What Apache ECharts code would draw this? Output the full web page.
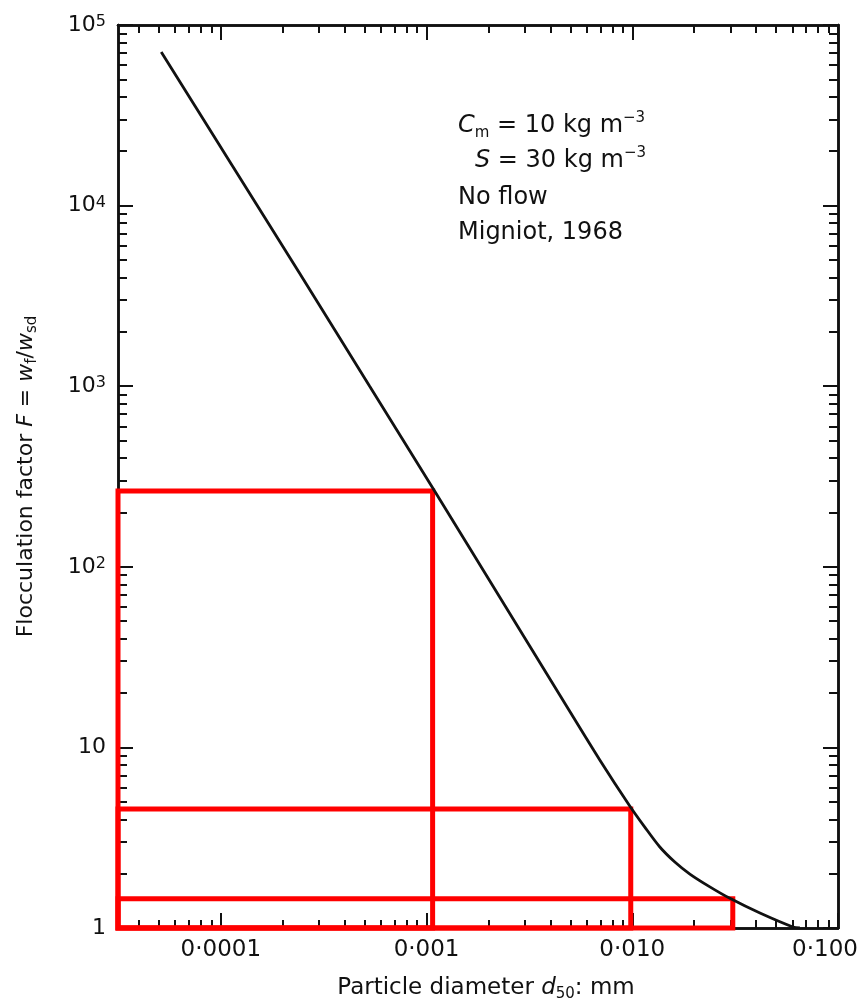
<!DOCTYPE html>
<html>
<head>
<meta charset="utf-8">
<script src="https://cdn.jsdelivr.net/npm/echarts@6/dist/echarts.min.js"></script>
<style>
html, body { margin: 0; padding: 0; background: #fff; }
#chart { width: 867px; height: 1008px; }
</style>
</head>
<body>
<div id="chart"></div>
<script>
// curve: particle diameter d50 (mm) -> flocculation factor F
const diameter = [5.13e-5, 1.10e-4, 2.41e-4, 5.28e-4, 1.094e-3, 2.266e-3, 4.44e-3, 6.95e-3,
  9.72e-3, 0.0115, 0.01361, 0.0161, 0.01905, 0.02383, 0.02981, 0.04174, 0.06039, 0.0653];
const factor = [70900, 17660, 4235, 1003, 263, 68.1, 19.5, 8.52,
  4.74, 3.62, 2.81, 2.32, 1.99, 1.69, 1.46, 1.21, 1.013, 1.0];

// red highlight boxes, from the left/bottom corner up to (boxRight, boxTop)
const boxRight = [0.00107, 0.00983, 0.0308];
const boxTop = [263, 4.56, 1.45];

const xTickValues = [0.0001, 0.001, 0.01, 0.1];
const xTickLabels = ['0·0001', '0·001', '0·010', '{last|0·100}'];
const yTickValues = [1, 10, 100, 1000, 10000, 100000];
const yTickLabels = ['1', '10', '10{sup|2}', '10{sup|3}', '10{sup|4}', '10{sup|5}'];
const minorSteps = [2, 3, 4, 5, 6, 7, 8, 9];

const FONT = 'DejaVu Sans';
const INK = '#111';
const lg = Math.log10;
const xMin = -4.5, xMax = -1, yMin = 0, yMax = 5;

const xMajor = xTickValues.map(lg);
const yMajor = yTickValues.map(lg);

function minorTicks(lo, hi) {
  const out = [];
  for (let e = Math.floor(lo); e < hi; e++) {
    minorSteps.forEach(m => {
      const v = e + lg(m);
      if (v > lo && v < hi) out.push(v);
    });
  }
  return out;
}

function pick(values, labels) {
  return v => {
    const i = values.findIndex(t => Math.abs(t - v) < 1e-6);
    return i < 0 ? '' : labels[i];
  };
}

// one axis per side per tick length: the log ticks go through customValues
function frameAxis(dim, position, ticks, len, extra) {
  const ax = {
    type: 'value',
    position: position,
    min: dim === 'x' ? xMin : yMin,
    max: dim === 'x' ? xMax : yMax,
    axisLine: { show: true, onZero: false, lineStyle: { color: INK, width: 2.5 } },
    axisTick: { show: true, inside: true, length: len, customValues: ticks, lineStyle: { color: INK, width: 2 } },
    axisLabel: { show: false },
    splitLine: { show: false },
    minorTick: { show: false }
  };
  return Object.assign(ax, extra || {});
}

const base = { fontFamily: FONT, fontSize: 23, color: INK, lineHeight: 28 };
const ital = { fontFamily: FONT, fontSize: 23, fontStyle: 'italic', color: INK, lineHeight: 28 };
const sub = { fontFamily: FONT, fontSize: 15, color: INK, lineHeight: 12, verticalAlign: 'bottom' };

const xMain = frameAxis('x', 'bottom', xMajor, 15, {
  name: '{n|Particle diameter }{i|d}{s|50}{n|: mm}',
  nameLocation: 'middle',
  nameGap: 46,
  nameTextStyle: { padding: [0, 0, 0, 16], rich: { n: base, i: ital, s: sub } },
  axisLabel: {
    show: true,
    customValues: xMajor,
    formatter: pick(xMajor, xTickLabels),
    margin: 11,
    fontFamily: FONT, fontSize: 23, color: INK,
    rich: { last: { fontFamily: FONT, fontSize: 23, color: INK, padding: [0, 26, 0, 0] } }
  }
});

const yMain = frameAxis('y', 'left', yMajor, 15, {
  name: '{n|Flocculation factor }{i|F}{n| = }{i|w}{s|f}{n|/}{i|w}{s|sd}',
  nameLocation: 'middle',
  nameGap: 78,
  nameRotate: 90,
  nameTextStyle: { rich: { n: Object.assign({}, base, { fontSize: 22 }), i: Object.assign({}, ital, { fontSize: 22 }), s: sub } },
  axisLabel: {
    show: true,
    customValues: yMajor,
    formatter: pick(yMajor, yTickLabels),
    margin: 12,
    fontFamily: FONT, fontSize: 22, color: INK,
    rich: { sup: { fontFamily: FONT, fontSize: 16, color: INK, lineHeight: 12, verticalAlign: 'top' } }
  }
});

const xMinorTicks = minorTicks(xMin, xMax);
const yMinorTicks = minorTicks(yMin, yMax);

const chart = echarts.init(document.getElementById('chart'), null, { renderer: 'canvas' });

const txt = { fill: INK, fontFamily: FONT, fontSize: 24 };
const richNote = {
  n: { fill: INK, fontFamily: FONT, fontSize: 24, lineHeight: 30 },
  i: { fill: INK, fontFamily: FONT, fontSize: 24, fontStyle: 'italic', lineHeight: 30 },
  s: { fill: INK, fontFamily: FONT, fontSize: 15, lineHeight: 12, verticalAlign: 'bottom' },
  p: { fill: INK, fontFamily: FONT, fontSize: 15, lineHeight: 12, verticalAlign: 'top' }
};

chart.setOption({
  animation: false,
  backgroundColor: '#fff',
  grid: { left: 118, right: 29, top: 25, bottom: 80, containLabel: false, outerBoundsMode: 'none' },
  xAxis: [
    xMain,
    frameAxis('x', 'bottom', xMinorTicks, 8),
    frameAxis('x', 'top', xMajor, 15),
    frameAxis('x', 'top', xMinorTicks, 8)
  ],
  yAxis: [
    yMain,
    frameAxis('y', 'left', yMinorTicks, 9),
    frameAxis('y', 'right', yMajor, 15),
    frameAxis('y', 'right', yMinorTicks, 9)
  ],
  graphic: [
    { type: 'text', left: 458, top: 111, style: Object.assign({ text: '{i|C}{s|m}{n| = 10 kg m}{p|−3}', rich: richNote }, txt) },
    { type: 'text', left: 475, top: 146, style: Object.assign({ text: '{i|S}{n| = 30 kg m}{p|−3}', rich: richNote }, txt) },
    { type: 'text', left: 458, top: 186, style: Object.assign({ text: 'No flow' }, txt) },
    { type: 'text', left: 458, top: 221, style: Object.assign({ text: 'Migniot, 1968' }, txt) }
  ],
  series: [{
    type: 'line',
    xAxisIndex: 0,
    yAxisIndex: 0,
    data: diameter.map((d, i) => [lg(d), lg(factor[i])]),
    smooth: 0.3,
    symbol: 'none',
    lineStyle: { color: INK, width: 2.8 },
    markArea: {
      silent: true,
      label: { show: false },
      itemStyle: { color: 'rgba(0,0,0,0)', borderColor: '#ff0000', borderWidth: 5 },
      data: boxRight.map((r, i) => [
        { xAxis: xMin, yAxis: yMin },
        { xAxis: lg(r), yAxis: lg(boxTop[i]) }
      ])
    }
  }]
});
</script>
</body>
</html>
